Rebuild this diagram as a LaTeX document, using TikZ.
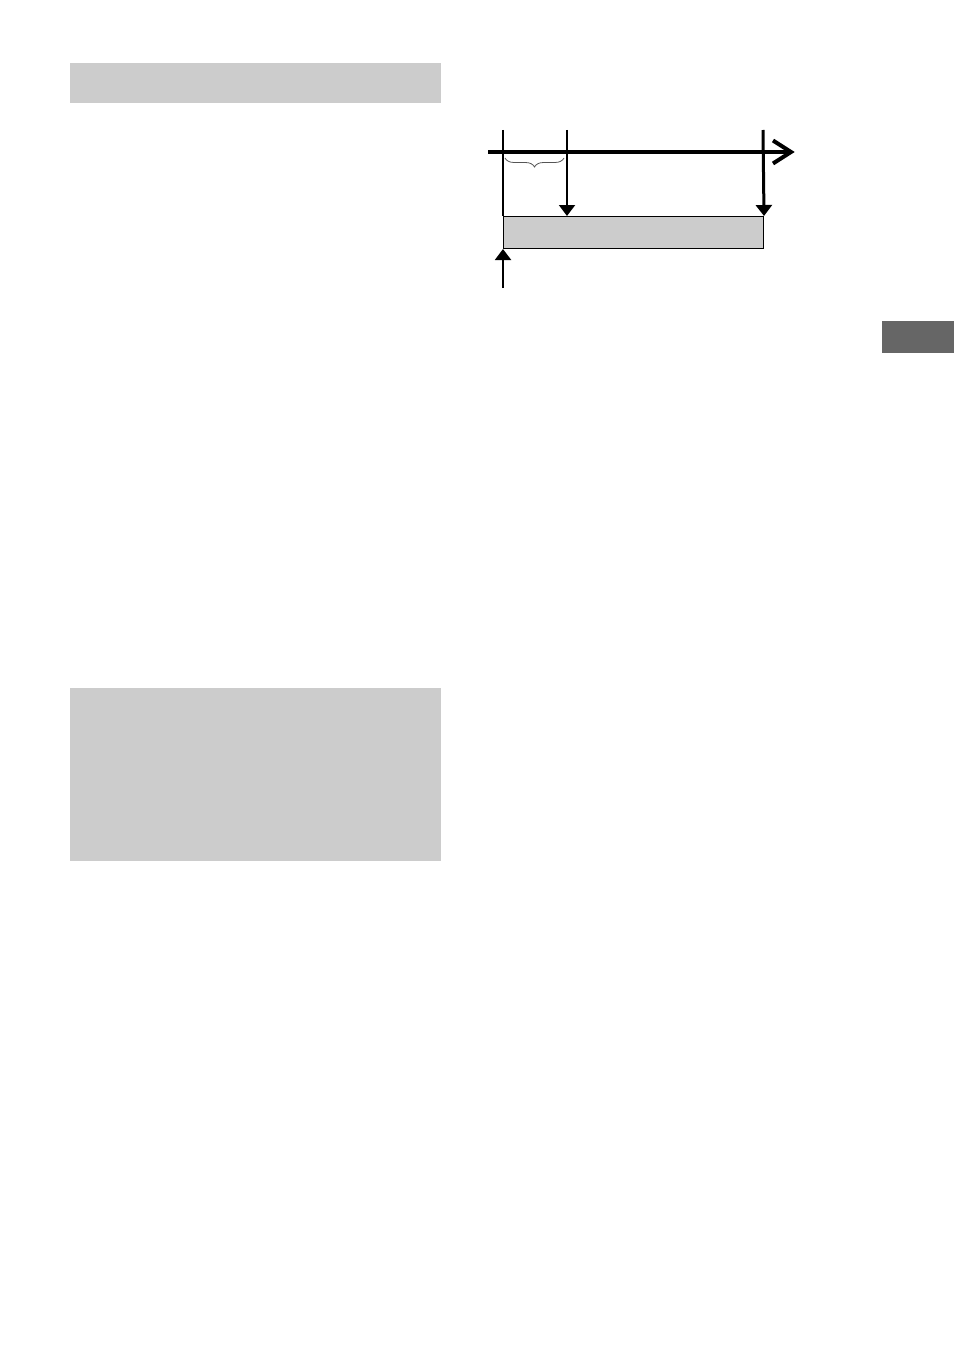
\documentclass[tikz,border=0pt]{standalone}
\usetikzlibrary{arrows.meta,decorations.pathreplacing}
\definecolor{panelgray}{HTML}{CCCCCC}
\definecolor{tabgray}{HTML}{666666}
\definecolor{bracegray}{HTML}{555555}
\tikzset{
  panel/.style={fill=panelgray, draw=none},
  marker/.style={draw=black, -{Triangle[length=11pt,width=16pt]}},
  barbox/.style={draw=black, line width=1pt, fill=panelgray, minimum width=260pt, minimum height=32pt, inner sep=0pt, anchor=north west},
}
\begin{document}
\begin{tikzpicture}[x=1pt,y=-1pt]
\useasboundingbox[fill=white] (0,0) rectangle (954,1351);
% side panels
\fill[panel] (70,63) rectangle (441,103.5);
\fill[panel] (70,688) rectangle (441,860.5);
\fill[tabgray] (882,321) rectangle (954,352.5);
% timeline
\coordinate (tl0) at (488,152);
\coordinate (tl1) at (791,152);
\draw[line width=4pt] (tl0) -- (tl1);
\draw[line width=4pt, miter limit=10] (773,140.5) -- (tl1) -- (773,163.5);
% bar
\node[barbox] (bar) at (503,216) {};
% vertical markers
\coordinate (a0) at (503,130);
\coordinate (a1) at (503,288);
\draw[line width=2pt] (a0) -- (bar.north west);
\draw[marker, line width=2pt] (a1) -- (bar.south west);
\coordinate (b0) at (567,130);
\draw[marker, line width=2pt] (b0) -- (567,216);
\coordinate (c0) at (763,130);
\draw[marker, line width=3pt] (c0) -- (bar.north east);
% brace
\draw[bracegray, line width=0.8pt, decorate, decoration={brace, mirror, amplitude=9pt}] (505,158) -- (564,158);
\end{tikzpicture}
\end{document}
